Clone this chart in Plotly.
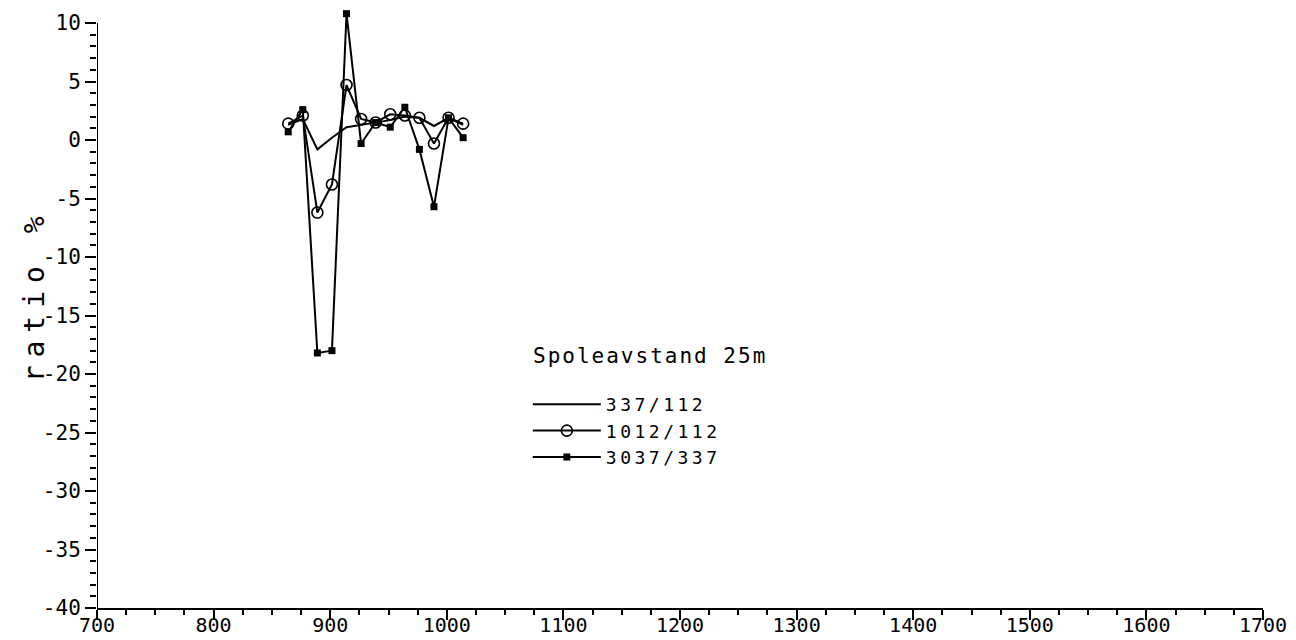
import plotly.graph_objects as go

# ---- data ----
distance = [864, 876.5, 889, 901.5, 914, 926.5, 939, 951.5, 964, 976.5, 989, 1001.5, 1014]
ratio_337_112 = [1.3, 1.8, -0.8, 0.2, 1.1, 1.3, 1.5, 1.7, 2.0, 1.9, 1.2, 1.9, 1.3]
ratio_1012_112 = [1.4, 2.1, -6.2, -3.8, 4.7, 1.8, 1.5, 2.2, 2.1, 1.9, -0.3, 1.9, 1.4]
ratio_3037_337 = [0.7, 2.6, -18.2, -18.0, 10.8, -0.3, 1.5, 1.1, 2.8, -0.8, -5.7, 1.9, 0.2]

series_names = ["337/112", "1012/112", "3037/337"]

x_tickvals = [700, 800, 900, 1000, 1100, 1200, 1300, 1400, 1500, 1600, 1700]
x_ticktext = ["700", "800", "900", "1000", "1100", "1200", "1300", "1400", "1500", "1600", "1700"]
y_tickvals = [10, 5, 0, -5, -10, -15, -20, -25, -30, -35, -40]
y_ticktext = ["10", "5", "0", "-5", "-10", "-15", "-20", "-25", "-30", "-35", "-40"]
y_axis_span = [-40, 10]
y_minor_vals = [v for v in range(-40, 11) if v % 5 != 0]

FONT = "DejaVu Sans Mono"


def spaced(text, px):
    return '<span style="letter-spacing:%spx">%s</span>' % (px, text)


fig = go.Figure()
fig.add_trace(go.Scatter(
    x=distance, y=ratio_337_112, name=spaced(series_names[0], 3.5), mode="lines",
    line=dict(color="black", width=2),
))
fig.add_trace(go.Scatter(
    x=distance, y=ratio_1012_112, name=spaced(series_names[1], 3.5), mode="lines+markers",
    line=dict(color="black", width=2),
    marker=dict(symbol="circle-open", size=11, color="black", line=dict(width=1.6, color="black")),
))
fig.add_trace(go.Scatter(
    x=distance, y=ratio_3037_337, name=spaced(series_names[2], 3.5), mode="lines+markers",
    line=dict(color="black", width=2),
    marker=dict(symbol="square", size=7, color="black"),
))

axis_common = dict(
    linecolor="black", linewidth=2,
    ticks="outside", tickcolor="black", tickwidth=2,
    showgrid=False, zeroline=False, mirror=False,
)

fig.update_xaxes(
    range=[700, 1700], tickvals=x_tickvals, ticktext=x_ticktext, ticklen=10,
    showline=True, ticklabelstandoff=-12,
    tickfont=dict(family=FONT, size=20, color="black"),
    minor=dict(dtick=25, tick0=700, ticks="outside", ticklen=5, tickwidth=1.5, tickcolor="black", showgrid=False),
    **axis_common,
)
fig.update_yaxes(
    range=[-40, 11.2], tickvals=y_tickvals, ticktext=y_ticktext, ticklen=11,
    showline=False,
    tickfont=dict(family=FONT, size=21, color="black"),
    minor=dict(tickmode="array", tickvals=y_minor_vals, ticks="outside", ticklen=6, tickwidth=1.5,
               tickcolor="black", showgrid=False),
    **axis_common,
)

# y axis line, ending at the top tick like the original plotter axis
fig.add_shape(type="line", xref="x", yref="y", x0=700, x1=700,
              y0=y_axis_span[0], y1=y_axis_span[1], line=dict(color="black", width=2))

fig.add_annotation(
    text=spaced("ratio %", 8),
    xref="paper", yref="paper", x=-0.054, y=0.522,
    xanchor="center", yanchor="middle", textangle=-90, showarrow=False,
    font=dict(family=FONT, size=28, color="black"),
)
fig.add_annotation(
    text=spaced("Spoleavstand 25m", 2),
    xref="paper", yref="paper", x=0.372, y=0.4207,
    xanchor="left", yanchor="middle", showarrow=False,
    font=dict(family=FONT, size=21, color="black"),
)

fig.update_layout(
    width=1296, height=640,
    margin=dict(l=97, r=33, t=9, b=32, autoexpand=False),
    paper_bgcolor="white", plot_bgcolor="white",
    showlegend=True,
    legend=dict(
        x=0.3695, y=0.3706, xanchor="left", yanchor="top",
        bgcolor="rgba(0,0,0,0)", borderwidth=0, itemwidth=68,
        font=dict(family=FONT, size=18, color="black"),
        tracegroupgap=0,
    ),
)

fig.write_html(
    "out.html",
    config={"displayModeBar": False},
    post_script="document.body.style.margin='0';document.body.style.overflow='hidden';",
)
